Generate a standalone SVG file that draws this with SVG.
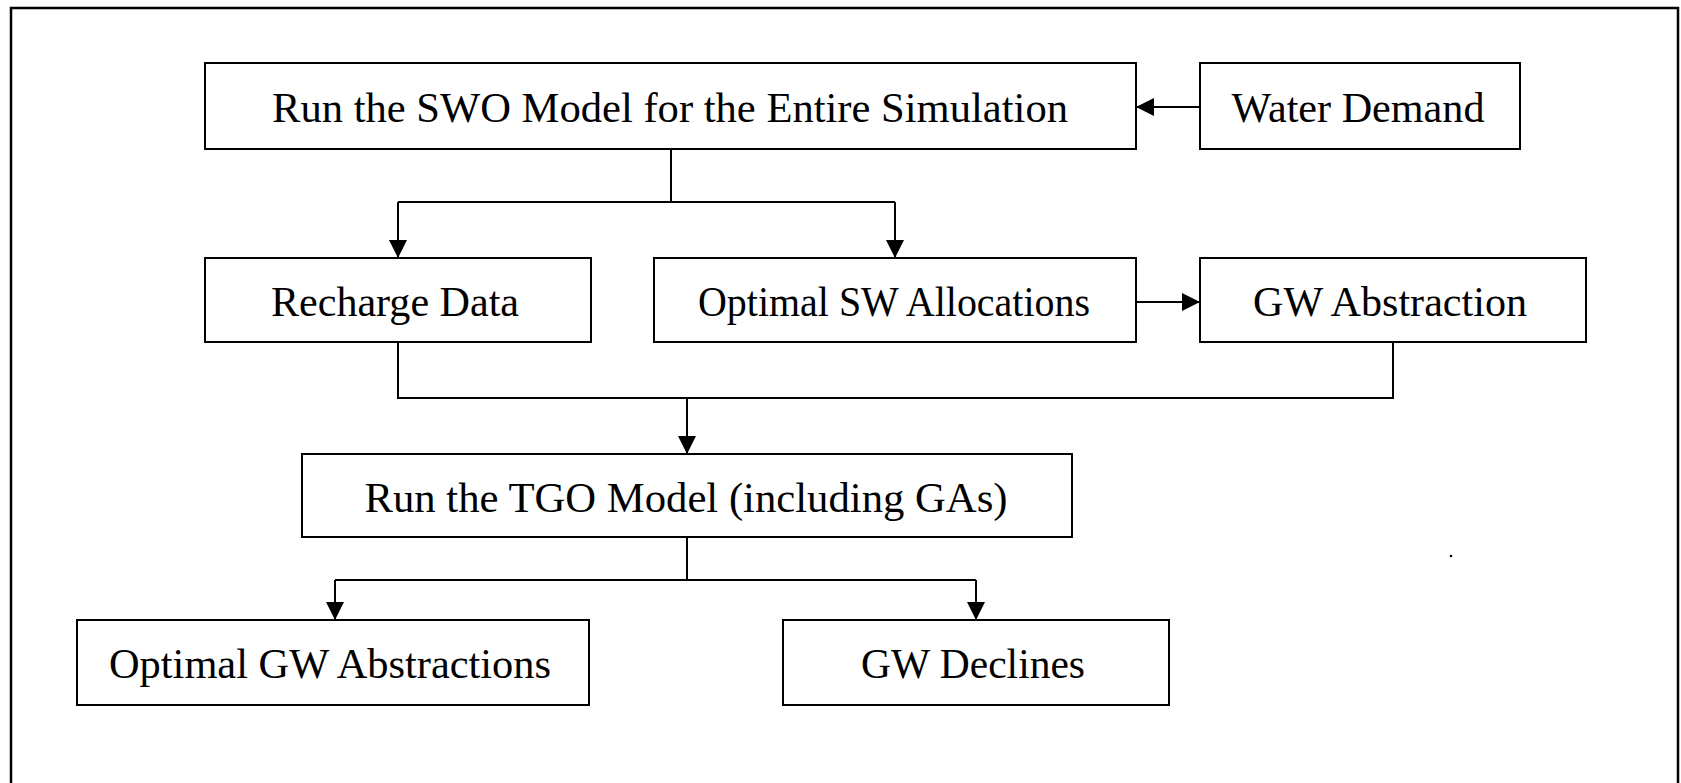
<svg xmlns="http://www.w3.org/2000/svg" width="1681" height="783" viewBox="0 0 1681 783">
<style>
.box{fill:#fff;stroke:#000;stroke-width:2}
.lbl{font-family:"Liberation Serif","Times New Roman",serif;font-size:42px;fill:#000;text-anchor:middle}
.con{fill:none;stroke:#000;stroke-width:2}
</style>
<defs>
<marker id="ah" viewBox="0 0 10 10" refX="10" refY="5" markerWidth="18" markerHeight="18" markerUnits="userSpaceOnUse" orient="auto">
<path d="M0,0 L10,5 L0,10 Z" fill="#000"/>
</marker>
</defs>
<rect x="0" y="0" width="1681" height="783" fill="#fff"/>
<rect x="11" y="8" width="1667" height="800" fill="none" stroke="#000" stroke-width="2.5"/>
<g id="swo"><rect class="box" x="205" y="63" width="931" height="86"/><text class="lbl" x="670" y="122" textLength="796" lengthAdjust="spacingAndGlyphs">Run the SWO Model for the Entire Simulation</text></g>
<g id="water-demand"><rect class="box" x="1200" y="63" width="320" height="86"/><text class="lbl" x="1358" y="122" textLength="253" lengthAdjust="spacingAndGlyphs">Water Demand</text></g>
<g id="recharge"><rect class="box" x="205" y="258" width="386" height="84"/><text class="lbl" x="395" y="316" textLength="248" lengthAdjust="spacingAndGlyphs">Recharge Data</text></g>
<g id="optimal-sw"><rect class="box" x="654" y="258" width="482" height="84"/><text class="lbl" x="894" y="316" textLength="392" lengthAdjust="spacingAndGlyphs">Optimal SW Allocations</text></g>
<g id="gw-abstraction"><rect class="box" x="1200" y="258" width="386" height="84"/><text class="lbl" x="1390" y="316" textLength="274" lengthAdjust="spacingAndGlyphs">GW Abstraction</text></g>
<g id="tgo"><rect class="box" x="302" y="454" width="770" height="83"/><text class="lbl" x="686" y="512" textLength="643" lengthAdjust="spacingAndGlyphs">Run the TGO Model (including GAs)</text></g>
<g id="optimal-gw"><rect class="box" x="77" y="620" width="512" height="85"/><text class="lbl" x="330" y="678" textLength="442" lengthAdjust="spacingAndGlyphs">Optimal GW Abstractions</text></g>
<g id="gw-declines"><rect class="box" x="783" y="620" width="386" height="85"/><text class="lbl" x="973" y="678" textLength="224" lengthAdjust="spacingAndGlyphs">GW Declines</text></g>
<g id="connectors">
<path class="con" d="M1200,107 L1136,107" marker-end="url(#ah)"/>
<path class="con" d="M671,149 L671,202"/>
<path class="con" d="M398,202 L895,202"/>
<path class="con" d="M398,202 L398,258" marker-end="url(#ah)"/>
<path class="con" d="M895,202 L895,258" marker-end="url(#ah)"/>
<path class="con" d="M1136,302 L1200,302" marker-end="url(#ah)"/>
<path class="con" d="M398,342 L398,398 L1393,398 L1393,342"/>
<path class="con" d="M687,398 L687,454" marker-end="url(#ah)"/>
<path class="con" d="M687,537 L687,580"/>
<path class="con" d="M335,580 L976,580"/>
<path class="con" d="M335,580 L335,620" marker-end="url(#ah)"/>
<path class="con" d="M976,580 L976,620" marker-end="url(#ah)"/>
</g>
<circle cx="1451" cy="556" r="1.3" fill="#000"/>
</svg>
